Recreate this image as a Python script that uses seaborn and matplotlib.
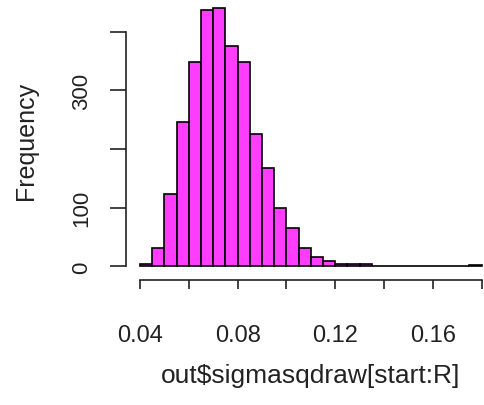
import matplotlib
matplotlib.use("Agg")
import matplotlib.pyplot as plt
import seaborn as sns
import numpy as np

# data (bin width 0.005)
bin_left = [0.040, 0.045, 0.050, 0.055, 0.060, 0.065, 0.070, 0.075, 0.080, 0.085,
            0.090, 0.095, 0.100, 0.105, 0.110, 0.115, 0.120, 0.125, 0.130, 0.135,
            0.140, 0.145, 0.150, 0.155, 0.160, 0.165, 0.170, 0.175]
counts = [4, 31, 123, 246, 349, 437, 440, 375, 349, 226,
          167, 99, 65, 31, 17, 10, 4, 4, 4, 1,
          1, 1, 1, 0, 0, 0, 0, 2]
bin_width = 0.005
x_ticks = [0.04, 0.06, 0.08, 0.10, 0.12, 0.14, 0.16, 0.18]
x_ticklabels = ["0.04", "", "0.08", "", "0.12", "", "0.16", ""]
y_ticks = [0, 100, 200, 300, 400]
y_ticklabels = ["0", "100", "", "300", ""]
x_label = "out$sigmasqdraw[start:R]"
y_label = "Frequency"

sns.set_style("white")
plt.rcParams['font.family'] = ['Liberation Sans', 'DejaVu Sans']

W, H = 484, 406
fig = plt.figure(figsize=(W / 100, H / 100), dpi=100)
ax = fig.add_axes([126.3 / W, 125 / H, 369 / W, 281 / H])

centers = [b + bin_width / 2 for b in bin_left]
edges = list(bin_left) + [bin_left[-1] + bin_width]
sns.histplot(x=centers, weights=counts, bins=edges, ax=ax,
             color="#ff3dff", alpha=1, edgecolor="black", linewidth=1.2)

ax.set_xlim(0.0344, 0.1856)
ax.set_ylim(-23, 455.7)

for s in ["top", "right"]:
    ax.spines[s].set_visible(False)
ax.spines["left"].set_bounds(0, 400)
ax.spines["bottom"].set_bounds(0.04, 0.18)
for s in ["left", "bottom"]:
    ax.spines[s].set_color("#222222")
    ax.spines[s].set_linewidth(1.2)

ax.set_xticks(x_ticks)
ax.set_xticklabels(x_ticklabels)
ax.set_yticks(y_ticks)
ax.set_yticklabels(y_ticklabels, rotation=90, va="center")
ax.tick_params(axis="x", direction="out", length=6.5, width=1.2, color="#222222",
               labelsize=17, pad=25.5, labelcolor="#222222", bottom=True)
ax.tick_params(axis="y", direction="out", length=11.5, width=1.2, color="#222222",
               labelsize=16, pad=13, labelcolor="#222222", left=True)

ax.set_xlabel(x_label, fontsize=19, color="#222222", labelpad=12)
ax.set_ylabel(y_label, fontsize=18, color="#222222", labelpad=24)
ax.grid(False)

fig.savefig("out.png", dpi=100)
